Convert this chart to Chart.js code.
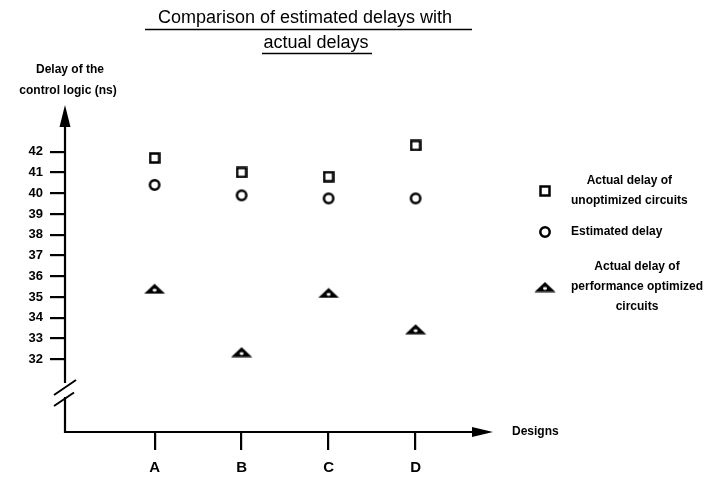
<!DOCTYPE html>
<html>
<head>
<meta charset="utf-8">
<script src="https://cdn.jsdelivr.net/npm/chart.js@4"></script>
<style>
  body { margin: 0; background: #fff; }
  #chart { display: block; }
</style>
</head>
<body>
<canvas id="chart" width="718" height="481"></canvas>
<script>
// Data
const categories = ['A', 'B', 'C', 'D'];
const unoptimizedDelay = [41.7, 41.0, 40.8, 42.3];
const estimatedDelay = [40.4, 39.9, 39.75, 39.75];
const optimizedDelay = [35.4, 32.35, 35.2, 33.45];
const yTicks = [32, 33, 34, 35, 36, 37, 38, 39, 40, 41, 42];
const titleLines = ['Comparison of estimated delays with', 'actual delays'];
const yTitleLines = ['Delay of the', 'control logic (ns)'];
const xTitle = 'Designs';
const legendLabels = [
    ['Actual delay of', 'unoptimized circuits'],
    ['Estimated delay'],
    ['Actual delay of', 'performance optimized', 'circuits']
];

const FONT = '"Liberation Sans", Arial, sans-serif';

// Marker images
function makeMarker(kind) {
    const c = document.createElement('canvas');
    const ctx = c.getContext('2d');
    if (kind === 'square') {
        c.width = 12; c.height = 12;
        ctx.lineWidth = 2.5;
        ctx.strokeStyle = '#000';
        ctx.strokeRect(1.5, 1.5, 9, 9);
    } else if (kind === 'circle') {
        c.width = 14; c.height = 14;
        ctx.lineWidth = 2.5;
        ctx.strokeStyle = '#000';
        ctx.beginPath();
        ctx.arc(7, 7, 4.7, 0, Math.PI * 2);
        ctx.stroke();
    } else {
        c.width = 22; c.height = 11;
        ctx.fillStyle = '#000';
        ctx.beginPath();
        ctx.moveTo(0.5, 10.5);
        ctx.lineTo(11, 0.5);
        ctx.lineTo(21.5, 10.5);
        ctx.closePath();
        ctx.fill();
        ctx.fillStyle = '#fff';
        ctx.beginPath();
        ctx.ellipse(11, 7, 2, 1.4, 0, 0, Math.PI * 2);
        ctx.fill();
    }
    return c;
}

const markers = [makeMarker('square'), makeMarker('circle'), makeMarker('triangle')];
const seriesValues = [unoptimizedDelay, estimatedDelay, optimizedDelay];

const datasets = seriesValues.map((vals, i) => ({
    label: legendLabels[i].join(' '),
    data: vals.map((v, j) => ({ x: j, y: v })),
    pointStyle: markers[i],
    pointRadius: 6,
    showLine: false
}));

// Hand-drawn decorations: axes with arrows, break, titles, legend
const decorations = {
    id: 'decorations',
    afterDraw(chart) {
        const ctx = chart.ctx;
        const a = chart.chartArea;
        ctx.save();
        ctx.strokeStyle = '#000';
        ctx.fillStyle = '#000';
        ctx.lineWidth = 2.2;

        // y axis with break
        const gapTop = 383, gapBottom = 397;
        ctx.beginPath();
        ctx.moveTo(a.left, a.top + 18);
        ctx.lineTo(a.left, gapTop);
        ctx.moveTo(a.left, gapBottom);
        ctx.lineTo(a.left, a.bottom);
        ctx.lineTo(a.right - 18, a.bottom);
        ctx.stroke();

        // break slashes
        ctx.lineWidth = 2;
        ctx.beginPath();
        ctx.moveTo(a.left - 11, 395);
        ctx.lineTo(a.left + 11, 380);
        ctx.moveTo(a.left - 11, 406);
        ctx.lineTo(a.left + 9, 392.5);
        ctx.stroke();

        // arrow heads
        ctx.beginPath();
        ctx.moveTo(a.left, a.top);
        ctx.lineTo(a.left - 5.5, a.top + 22);
        ctx.lineTo(a.left + 5.5, a.top + 22);
        ctx.closePath();
        ctx.fill();
        ctx.beginPath();
        ctx.moveTo(a.right, a.bottom);
        ctx.lineTo(a.right - 21, a.bottom - 5);
        ctx.lineTo(a.right - 21, a.bottom + 5);
        ctx.closePath();
        ctx.fill();

        // title with underlines
        ctx.textAlign = 'center';
        ctx.textBaseline = 'middle';
        ctx.font = '18px ' + FONT;
        ctx.fillText(titleLines[0], 305, 18);
        ctx.fillText(titleLines[1], 316, 43);
        ctx.lineWidth = 1.6;
        ctx.beginPath();
        ctx.moveTo(145, 29.5);
        ctx.lineTo(472, 29.5);
        ctx.moveTo(262, 53.5);
        ctx.lineTo(372, 53.5);
        ctx.stroke();

        // axis titles
        ctx.font = 'bold 12px ' + FONT;
        ctx.fillText(yTitleLines[0], 70, 70);
        ctx.fillText(yTitleLines[1], 68, 91);
        ctx.textAlign = 'left';
        ctx.fillText(xTitle, 512, 432);

        // legend
        const rows = [191, 232, 287];
        const blockLeft = 571;
        legendLabels.forEach((lines, i) => {
            const m = markers[i];
            ctx.drawImage(m, 545 - m.width / 2, rows[i] - m.height / 2);
            const widths = lines.map(t => ctx.measureText(t).width);
            const center = blockLeft + Math.max(...widths) / 2;
            const startY = rows[i] - (lines.length - 1) * 10;
            ctx.textAlign = 'center';
            lines.forEach((t, k) => ctx.fillText(t, center, startY + k * 20));
        });
        ctx.restore();
    }
};

const chart = new Chart(document.getElementById('chart'), {
    type: 'scatter',
    data: { datasets },
    options: {
        responsive: false,
        animation: false,
        layout: { padding: { left: 0, right: 225, top: 105, bottom: 0 } },
        plugins: { legend: { display: false }, tooltip: { enabled: false } },
        scales: {
            x: {
                type: 'linear',
                min: -1.03,
                max: 3.89,
                afterBuildTicks: scale => { scale.ticks = categories.map((c, i) => ({ value: i })); },
                afterFit: scale => { scale.height = 49; },
                ticks: {
                    callback: v => categories[v],
                    color: '#000',
                    padding: 9,
                    font: { family: FONT, size: 15, weight: 'bold' }
                },
                grid: { drawOnChartArea: false, tickLength: 18, tickColor: '#000', lineWidth: 2.2 },
                border: { display: false }
            },
            y: {
                min: 28.5,
                max: 44.25,
                afterBuildTicks: scale => { scale.ticks = yTicks.map(v => ({ value: v })); },
                afterFit: scale => { scale.width = 65; },
                ticks: {
                    color: '#000',
                    padding: 7,
                    font: { family: FONT, size: 13, weight: 'bold' }
                },
                grid: { drawOnChartArea: false, tickLength: 15, tickColor: '#000', lineWidth: 2.2 },
                border: { display: false }
            }
        }
    },
    plugins: [decorations]
});
</script>
</body>
</html>
